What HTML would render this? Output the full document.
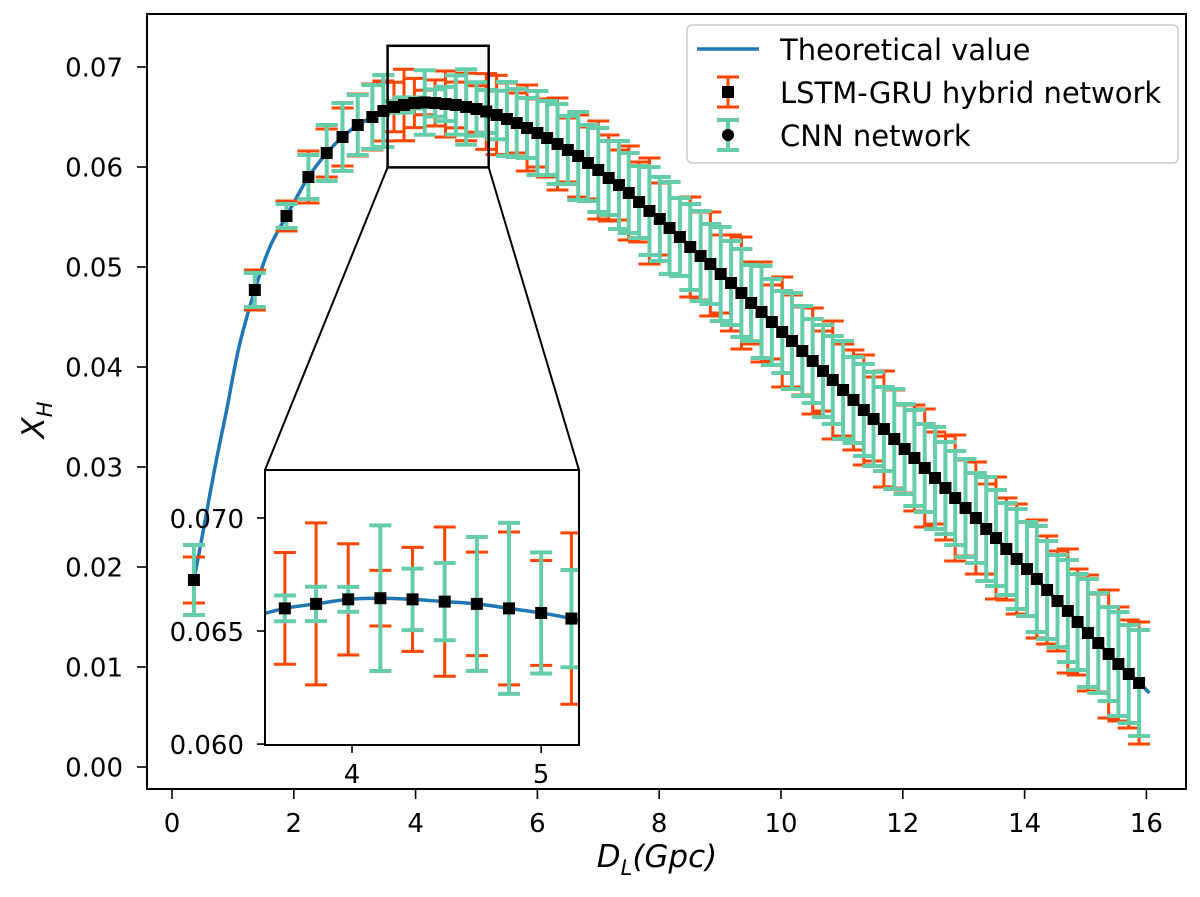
<!DOCTYPE html>
<html>
<head>
<meta charset="utf-8">
<style>
html,body{margin:0;padding:0;background:#fff;overflow:hidden;width:1200px;height:897px;}
svg{display:block;}
text{font-family:"DejaVu Sans","Liberation Sans",sans-serif;fill:#000;}
</style>
</head>
<body>
<svg id="chart" width="1200" height="897" viewBox="0 0 1200 897" xmlns="http://www.w3.org/2000/svg">
  <defs>
    <clipPath id="mainClip"><rect x="147" y="14" width="1039" height="775"/></clipPath>
    <clipPath id="insetClip"><rect x="265" y="470" width="314" height="275"/></clipPath>
  </defs>
  <g id="mainLayer" clip-path="url(#mainClip)"></g>
  <g id="axes"></g>
  <g id="insetLayer"></g>
  <g id="legend"></g>
</svg>
<script>
// ---- data ----
const distances = [0.36,1.36,1.88,2.24,2.54,2.80,3.05,3.29,3.47,
3.645,3.81,3.98,4.15,4.32,4.49,4.66,4.83,5.00,5.16,
5.33,5.50,5.66,5.83,6.00,6.16,6.33,6.50,6.67,6.83,
7.00,7.17,7.34,7.50,7.67,7.84,8.01,8.17,8.34,8.51,
8.68,8.84,9.01,9.18,9.35,9.51,9.68,9.85,10.02,10.18,
10.35,10.52,10.69,10.85,11.02,11.19,11.36,11.52,11.69,11.86,
12.03,12.19,12.36,12.53,12.70,12.86,13.03,13.20,13.37,13.53,
13.70,13.87,14.04,14.20,14.37,14.54,14.71,14.87,15.04,15.21,
15.38,15.54,15.71,15.88];
const xhValues = [0.0187,0.0477,0.0551,0.0590,0.0614,0.0630,0.0642,0.0650,0.0656,
0.0660,0.0662,0.0664,0.06645,0.0664,0.0663,0.0662,0.0660,0.0658,0.06555,
0.0652,0.0648,0.0644,0.0639,0.0634,0.0629,0.0623,0.0617,0.0611,0.0604,
0.0597,0.0589,0.0582,0.0574,0.0565,0.0556,0.0548,0.0539,0.0530,0.0520,
0.0511,0.0503,0.0493,0.0484,0.0474,0.0464,0.0455,0.0445,0.0435,0.0426,
0.0416,0.0406,0.0396,0.0387,0.0377,0.0367,0.0357,0.0348,0.0338,0.0328,
0.0318,0.0309,0.0299,0.0289,0.0279,0.0269,0.0259,0.0249,0.0238,0.0229,
0.0218,0.0208,0.0198,0.0188,0.0177,0.0166,0.0156,0.0145,0.0134,0.0124,
0.0113,0.0103,0.0093,0.0084];
// half-widths of error bars (units of 1e-3)
const lstmErr = [2.3,2.0,1.5,2.6,2.4,2.9,3.1,3.3,3.0,
2.47,3.58,2.46,1.23,2.30,3.30,2.29,3.38,2.32,3.79,3.96,
3.6,3.0,4.3,3.4,3.9,4.6,3.2,4.1,3.6,4.9,
4.3,3.5,4.7,4.0,5.3,3.6,4.6,3.9,5.0,4.4,
5.2,3.9,4.8,5.6,4.1,5.0,3.7,5.5,4.6,4.4,
5.3,4.0,5.9,4.6,5.0,5.5,4.2,5.8,4.9,4.4,
5.3,5.9,4.6,5.2,6.3,4.8,5.6,4.5,6.1,5.1,
5.5,4.7,5.9,5.4,5.0,6.2,5.3,5.8,4.9,6.4,
5.7,5.4,6.1,7.0];
const cnnErr = [3.5,1.7,1.2,2.2,2.8,3.4,3.0,3.2,3.6,
0.57,0.76,0.55,3.22,1.36,1.71,2.96,3.78,2.68,2.15,2.43,
3.7,3.4,3.0,4.2,3.7,4.0,3.4,4.4,3.8,4.2,
3.7,4.4,4.0,3.6,4.4,4.2,4.6,3.9,4.3,4.5,
4.0,4.7,4.2,4.4,3.8,4.6,4.3,4.1,4.8,4.5,
4.2,4.6,4.4,4.9,4.3,4.6,4.7,4.2,5.0,4.5,
4.8,4.4,5.1,4.6,4.7,4.9,4.5,5.2,4.8,4.6,
5.0,4.7,5.3,4.9,4.6,5.1,4.8,5.4,5.0,4.7,
5.2,4.9,5.3,4.4];
// extra theory-curve knots (between sparse early points / tail)
const theoryExtraX = [0.5,0.7,0.9,1.1,1.6,16.05];
const theoryExtraY = [0.0232,0.0298,0.0358,0.0420,0.0519,0.0074];
const xTicks = [0,2,4,6,8,10,12,14,16];
const yTicks = [0.00,0.01,0.02,0.03,0.04,0.05,0.06,0.07];
const insetXTicks = [4,5];
const insetYTicks = [0.060,0.065,0.070];

// ---- scales ----
const X = v => 172 + v*60.9;
const Y = v => 767 - v*10000;
const IX0=265, IX1=579, IY0=470, IY1=745;
const ixMin=3.54, ixMax=5.20, iyMin=0.05996, iyMax=0.07212;
const IX = v => IX0 + (v-ixMin)/(ixMax-ixMin)*(IX1-IX0);
const IY = v => IY1 - (v-iyMin)/(iyMax-iyMin)*(IY1-IY0);

const NS="http://www.w3.org/2000/svg";
function mk(tag, attrs, parent){
  const e=document.createElementNS(NS,tag);
  for(const k in attrs) e.setAttribute(k, attrs[k]);
  parent.appendChild(e); return e;
}
const RED="#ff4500", GREEN="#66cdaa", BLUE="#1f77b4";

const th = distances.map((d,i)=>[d,xhValues[i]]);
theoryExtraX.forEach((d,i)=>th.push([d,theoryExtraY[i]]));
th.sort((a,b)=>a[0]-b[0]);

function smoothPath(P){
  let d=`M${P[0][0].toFixed(2)},${P[0][1].toFixed(2)}`;
  for(let i=0;i<P.length-1;i++){
    const p0=P[Math.max(0,i-1)],p1=P[i],p2=P[i+1],p3=P[Math.min(P.length-1,i+2)];
    const c1x=p1[0]+(p2[0]-p0[0])/6,c1y=p1[1]+(p2[1]-p0[1])/6;
    const c2x=p2[0]-(p3[0]-p1[0])/6,c2y=p2[1]-(p3[1]-p1[1])/6;
    d+=`C${c1x.toFixed(2)},${c1y.toFixed(2)} ${c2x.toFixed(2)},${c2y.toFixed(2)} ${p2[0].toFixed(2)},${p2[1].toFixed(2)}`;
  }
  return d;
}

function drawSeries(layer, sx, sy, cap, pref){
  const curve = mk("path",{d:smoothPath(th.map(p=>[sx(p[0]),sy(p[1])])),fill:"none",stroke:BLUE,"stroke-width":3.5,"stroke-linejoin":"round"},layer);
  
  
  [[lstmErr,RED,3,'lstm'],[cnnErr,GREEN,4,'cnn']].forEach(([errs,col,w,nm])=>{
    const g = mk("g",{},layer);
    
    
    distances.forEach((d,i)=>{
      const cx=sx(d), top=sy(xhValues[i]+errs[i]*1e-3), bot=sy(xhValues[i]-errs[i]*1e-3);
      const bar = mk("path",{d:`M${cx},${top}V${bot}M${cx-cap},${top}H${cx+cap}M${cx-cap},${bot}H${cx+cap}`,stroke:col,"stroke-width":w,fill:"none"},g);
      
      
    });
  });
  const mg = mk("g",{},layer);
  
  
  distances.forEach((d,i)=>{
    const m = mk("rect",{x:sx(d)-6,y:sy(xhValues[i])-6,width:12,height:12,fill:"#000"},mg);
    
    
  });
}

drawSeries(document.getElementById("mainLayer"), X, Y, 11, 'main-');

// axes
const ax=document.getElementById("axes");
const frame = mk("rect",{x:147,y:14,width:1039,height:775,fill:"none",stroke:"#000","stroke-width":2},ax);


xTicks.forEach(t=>{
  mk("line",{x1:X(t),x2:X(t),y1:789,y2:799,stroke:"#000","stroke-width":1.6},ax);
  const lb=mk("text",{x:X(t),y:832,"font-size":26,"text-anchor":"middle"},ax);
  lb.textContent=t;
  
  
});
yTicks.forEach(t=>{
  mk("line",{x1:137,x2:147,y1:Y(t),y2:Y(t),stroke:"#000","stroke-width":1.6},ax);
  const lb=mk("text",{x:123,y:Y(t)+9.5,"font-size":26,"text-anchor":"end"},ax);
  lb.textContent=t.toFixed(2);
  
  
});
const xl=mk("text",{x:657,y:867,"font-size":31,"text-anchor":"middle","font-style":"italic"},ax);
xl.innerHTML='D<tspan font-size="21" dy="8">L</tspan><tspan dy="-8">(Gpc)</tspan>';


const yl=mk("text",{x:0,y:0,"font-size":31,"text-anchor":"middle","font-style":"italic",transform:"translate(44,420) rotate(-90)"},ax);
yl.innerHTML='X<tspan font-size="21" dy="8">H</tspan>';



// zoom rectangle + connectors
const zr = mk("rect",{x:X(ixMin),y:Y(iyMax),width:X(ixMax)-X(ixMin),height:Y(iyMin)-Y(iyMax),fill:"none",stroke:"#000","stroke-width":2.5},ax);


const c1 = mk("line",{x1:X(ixMin),y1:Y(iyMin),x2:IX0,y2:IY0,stroke:"#000","stroke-width":2},ax);


const c2 = mk("line",{x1:X(ixMax),y1:Y(iyMin),x2:IX1,y2:IY0,stroke:"#000","stroke-width":2},ax);



// inset
const ins=document.getElementById("insetLayer");
mk("rect",{x:IX0,y:IY0,width:IX1-IX0,height:IY1-IY0,fill:"#fff"},ins);
const insData = mk("g",{"clip-path":"url(#insetClip)"},ins);


drawSeries(insData, IX, IY, 11, 'inset-');
const ifr = mk("rect",{x:IX0,y:IY0,width:IX1-IX0,height:IY1-IY0,fill:"none",stroke:"#000","stroke-width":2},ins);


insetXTicks.forEach(t=>{
  mk("line",{x1:IX(t),x2:IX(t),y1:IY1,y2:IY1+8,stroke:"#000","stroke-width":1.6},ins);
  const lb=mk("text",{x:IX(t),y:IY1+38,"font-size":26,"text-anchor":"middle"},ins);
  lb.textContent=t;
  
  
});
insetYTicks.forEach(t=>{
  mk("line",{x1:IX0-8,x2:IX0,y1:IY(t),y2:IY(t),stroke:"#000","stroke-width":1.6},ins);
  const lb=mk("text",{x:244,y:IY(t)+10,"font-size":26,"text-anchor":"end"},ins);
  lb.textContent=t.toFixed(3);
  
  
});

// legend
const lg=document.getElementById("legend");
mk("rect",{x:687,y:25,width:491,height:138,rx:5,fill:"#fff","fill-opacity":0.85,stroke:"#cccccc","stroke-width":1.5},lg);
mk("line",{x1:697,x2:759,y1:49,y2:49,stroke:BLUE,"stroke-width":3.5},lg);
mk("path",{d:"M728,77V107M717,77H739M717,107H739",stroke:RED,"stroke-width":3,fill:"none"},lg);
mk("rect",{x:722,y:86,width:12,height:12,fill:"#000"},lg);
mk("path",{d:"M728,120V150M717,120H739M717,150H739",stroke:GREEN,"stroke-width":4,fill:"none"},lg);
mk("circle",{cx:728,cy:135,r:6,fill:"#000"},lg);
[["Theoretical value",60,'legend-entry-theoretical'],["LSTM-GRU hybrid network",103,'legend-entry-lstm'],["CNN network",146,'legend-entry-cnn']].forEach(([s,y,n])=>{
  const t=mk("text",{x:780,y:y,"font-size":29},lg);
  t.textContent=s;
  
  
});
</script>
</body>
</html>
